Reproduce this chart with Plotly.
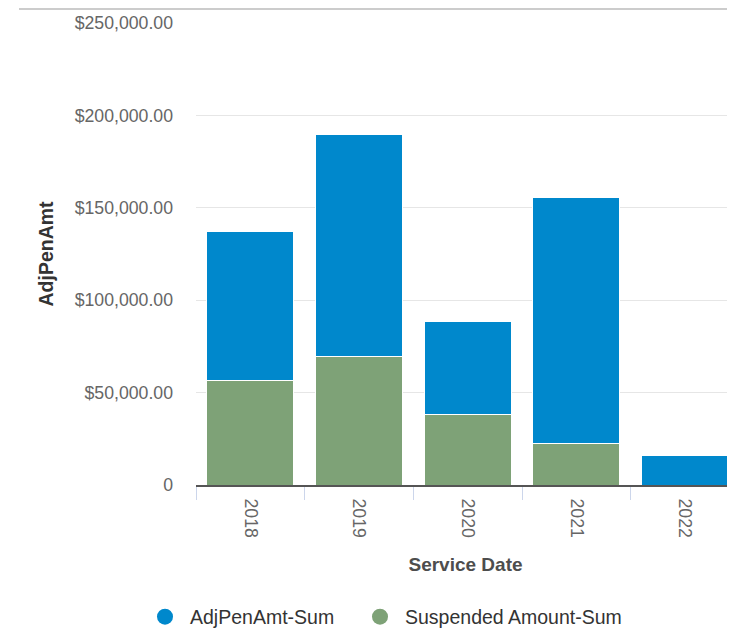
import plotly.graph_objects as go

categories = ["2018", "2019", "2020", "2021", "2022"]
adj_pen_amt = [80600, 119600, 50800, 133600, 15700]
suspended_amt = [56800, 69800, 37900, 22200, 0]
y_tick_vals = [0, 50000, 100000, 150000, 200000, 250000]
y_tick_text = ["0", "$50,000.00", "$100,000.00", "$150,000.00", "$200,000.00", "$250,000.00"]

BLUE = "#0088cc"
GREEN = "#7ea277"
FONT = "Liberation Sans, Arial, sans-serif"

# page body has an 8px margin; figure is sized to fill the rest of the window
W, H = 727, 622
L, T, B = 188, 15, 145

fig = go.Figure()
fig.add_trace(go.Bar(x=categories, y=suspended_amt, name="Suspended Amount-Sum",
                     marker=dict(color=GREEN, line=dict(color="white", width=1)),
                     showlegend=False))
fig.add_trace(go.Bar(x=categories, y=adj_pen_amt, name="AdjPenAmt-Sum",
                     marker=dict(color=BLUE, line=dict(color="white", width=1)),
                     showlegend=False))
# legend entries with circle symbols
fig.add_trace(go.Scatter(x=[None], y=[None], mode="markers", name="AdjPenAmt-Sum",
                         marker=dict(color=BLUE, size=18, symbol="circle"), legend="legend"))
fig.add_trace(go.Scatter(x=[None], y=[None], mode="markers", name="Suspended Amount-Sum",
                         marker=dict(color=GREEN, size=18, symbol="circle"), legend="legend2"))

legend_common = dict(orientation="h", xref="container", yref="container",
                     xanchor="left", y=1 - 609 / H, yanchor="middle",
                     font=dict(size=19.5, color="#333333"), itemsizing="trace",
                     itemwidth=40, bgcolor="rgba(0,0,0,0)")

fig.update_layout(
    width=W, height=H,
    barmode="stack",
    bargap=0.2,
    plot_bgcolor="white", paper_bgcolor="white",
    margin=dict(l=L, r=0, t=T, b=B, autoexpand=False),
    font=dict(family=FONT, size=17.7, color="#666666"),
    legend=dict(x=132 / W, **legend_common),
    legend2=dict(x=347 / W, **legend_common),
    showlegend=True,
)
fig.update_xaxes(
    type="category", range=[-0.5, 4.46],
    tickangle=90, ticks="outside", tickson="boundaries", ticklen=13,
    tickcolor="#ccd6eb", tickwidth=1,
    showline=True, linecolor="#555555", linewidth=2,
    showgrid=False,
    ticklabelstandoff=8,
    tickfont=dict(size=17.7, color="#666666"),
    title=dict(text="<b>Service Date</b>", font=dict(size=19, color="#4d4d4d"), standoff=21),
)
fig.update_yaxes(
    range=[0, 250000], tickvals=y_tick_vals, ticktext=y_tick_text,
    showgrid=True, gridcolor="#e6e6e6", gridwidth=1,
    zeroline=False, showline=False, ticks="",
    ticklabelstandoff=22,
    tickfont=dict(size=17.7, color="#666666"),
    title=dict(text="<b>AdjPenAmt</b>", font=dict(size=19.5, color="#333333"), standoff=15),
)
plot_w = W - L
plot_h = H - T - B
fig.add_shape(type="line", xref="paper", yref="paper",
              x0=(11 - L) / plot_w, x1=1.0, y0=1 + (T - 1) / plot_h, y1=1 + (T - 1) / plot_h,
              line=dict(color="#cccccc", width=2))

fig.write_html("out.html")
